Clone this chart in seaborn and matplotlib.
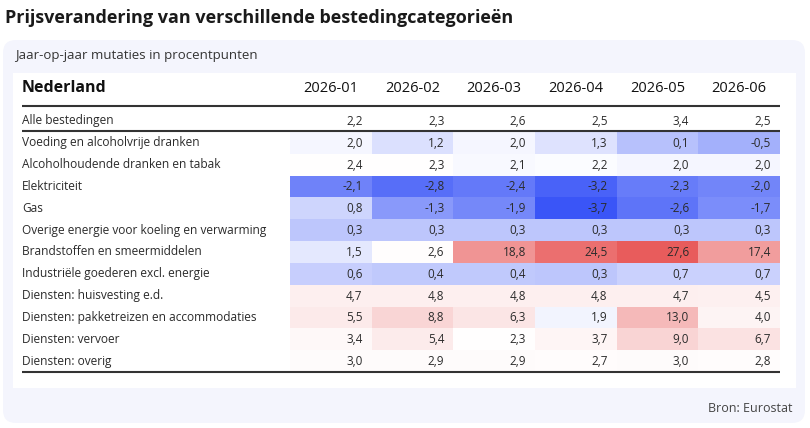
import matplotlib.pyplot as plt
import matplotlib.patches as mpatches
from matplotlib.colors import LinearSegmentedColormap, TwoSlopeNorm
import seaborn as sns
import numpy as np
import pandas as pd

# Data
maanden = ['2026-01', '2026-02', '2026-03', '2026-04', '2026-05', '2026-06']
categorieen = ['Alle bestedingen',
               'Voeding en alcoholvrije dranken',
               'Alcoholhoudende dranken en tabak',
               'Elektriciteit',
               'Gas',
               'Overige energie voor koeling en verwarming',
               'Brandstoffen en smeermiddelen',
               'Industriële goederen excl. energie',
               'Diensten: huisvesting e.d.',
               'Diensten: pakketreizen en accommodaties',
               'Diensten: vervoer',
               'Diensten: overig']
alle = [2.2, 2.3, 2.6, 2.5, 3.4, 2.5]
voeding = [2.0, 1.2, 2.0, 1.3, 0.1, -0.5]
alcohol = [2.4, 2.3, 2.1, 2.2, 2.0, 2.0]
elektriciteit = [-2.1, -2.8, -2.4, -3.2, -2.3, -2.0]
gas = [0.8, -1.3, -1.9, -3.7, -2.6, -1.7]
overige_energie = [0.3, 0.3, 0.3, 0.3, 0.3, 0.3]
brandstoffen = [1.5, 2.6, 18.8, 24.5, 27.6, 17.4]
industrie = [0.6, 0.4, 0.4, 0.3, 0.7, 0.7]
huisvesting = [4.7, 4.8, 4.8, 4.8, 4.7, 4.5]
pakketreizen = [5.5, 8.8, 6.3, 1.9, 13.0, 4.0]
vervoer = [3.4, 5.4, 2.3, 3.7, 9.0, 6.7]
overig = [3.0, 2.9, 2.9, 2.7, 3.0, 2.8]

df = pd.DataFrame([alle, voeding, alcohol, elektriciteit, gas, overige_energie,
                   brandstoffen, industrie, huisvesting, pakketreizen, vervoer, overig],
                  index=categorieen, columns=maanden)

plt.rcParams['font.family'] = ['Open Sans', 'DejaVu Sans']

W, H = 810, 428
fig = plt.figure(figsize=(W / 100, H / 100), dpi=100)
fig.patch.set_facecolor('white')


def px(x0, y0, x1, y1):
    # pixel box (top-left origin) -> figure fraction rect
    return [x0 / W, 1 - y1 / H, (x1 - x0) / W, (y1 - y0) / H]


# Kaart-achtergrond
bg = fig.add_axes([0, 0, 1, 1])
bg.set_xlim(0, W)
bg.set_ylim(H, 0)
bg.axis('off')
bg.add_patch(mpatches.FancyBboxPatch((3, 40), 802, 383, boxstyle='round,pad=0,rounding_size=13',
                                     facecolor='#f4f5fd', edgecolor='none'))
bg.add_patch(mpatches.Rectangle((13, 73), 783, 315, facecolor='white', edgecolor='none'))

fig.text(5 / W, 1 - 18 / H, 'Prijsverandering van verschillende bestedingcategorieën',
         fontsize=13, fontweight='bold', color='#1a1a1a', va='center', ha='left')
fig.text(15 / W, 1 - 55 / H, 'Jaar-op-jaar mutaties in procentpunten',
         fontsize=9.5, color='#333333', va='center', ha='left')
fig.text(792 / W, 1 - 408 / H, 'Bron: Eurostat',
         fontsize=9, color='#444444', va='center', ha='right')

# Heatmap
ax = fig.add_axes(px(290, 110, 780, 372))
cmap = LinearSegmentedColormap.from_list('bw_r', ['#3a55f7', '#ffffff', '#e85c5c'])
norm = TwoSlopeNorm(vmin=-3.7, vcenter=2.3, vmax=27.6)
mask = np.zeros(df.shape, dtype=bool)
mask[0, :] = True
sns.heatmap(df, ax=ax, cmap=cmap, norm=norm, mask=mask, cbar=False,
            annot=False, linewidths=0, xticklabels=False, yticklabels=False)
ax.set_xlabel('')
ax.set_ylabel('')

lx = (22 - 290) / (490 / 6)
for i, cat in enumerate(categorieen):
    ax.text(lx, i + 0.5, cat, ha='left', va='center', fontsize=8.6, color='#2b2b2b', clip_on=False)
    for j, v in enumerate(df.iloc[i]):
        ax.text(j + 0.89, i + 0.52, f'{v:.1f}'.replace('.', ','), ha='right', va='center',
                fontsize=8.5, color='#2b2b2b')

ax.text(lx, -1.0, 'Nederland', ha='left', va='center', fontsize=11.5, fontweight='bold',
        color='#111111', clip_on=False)
for j, m in enumerate(maanden):
    ax.text(j + 0.5, -1.0, m, ha='center', va='center', fontsize=10.5, color='#111111', clip_on=False)

for y in [-0.18, 0.98, 12]:
    ax.hlines(y, lx, 6, colors='#333333', linewidth=1.5, clip_on=False)

fig.savefig('out.png', dpi=100)
